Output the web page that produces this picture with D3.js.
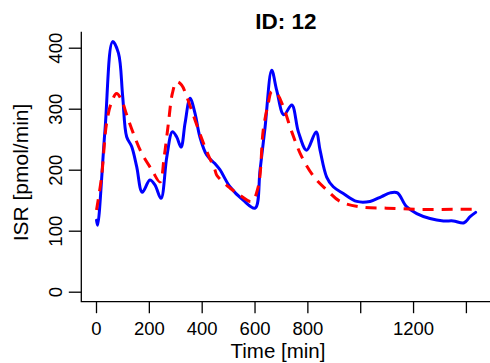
<!DOCTYPE html>
<html><head><meta charset="utf-8">
<script src="https://cdn.jsdelivr.net/npm/d3@7"></script>
<style>body{margin:0;background:#fff}svg{display:block}text{font-family:"Liberation Sans",Arial,sans-serif}</style>
</head><body>
<svg id="c" width="490" height="363"></svg>
<script>
const observedTime = [2,6,34,63,85,101,116,135,154,175,204,223,246,268,289,305,322,337,356,375,393,419,450,469,507,557,602,621,640,665,684,711,741,766,797,833,848,873,898,936,987,1037,1081,1113,1141,1174,1214,1264,1315,1352,1393,1416,1437];
const observedISR  = [117,109,265,410,391,320,254,238,205,163,183,175,153,221,262,254,237,276,317,292,254,224,210,200,172,150,137,200,270,363,330,290,306,262,232,262,232,188,172,161,148,148,156,162,162,140,128,120,116,116,113,123,130];
const modelTime = [2,21,40,59,78,97,116,141,173,211,242,258,274,289,305,324,343,368,400,425,450,457,507,545,589,614,633,652,665,684,709,741,779,829,873,924,999,1100,1226,1352,1428];
const modelISR  = [134,188,276,311,325,314,290,260,227,200,180,221,276,325,344,339,320,290,251,224,200,191,170,158,148,172,265,309,328,325,303,262,221,186,167,148,139,137,135,135,135];
const xTicks = [0,200,400,600,800,1000,1200,1400];
const xTickLabels = ["0","200","400","600","800","","1200",""];
const yTicks = [0,100,200,300,400];
const yTickLabels = ["0","100","200","300","400"];

const svg = d3.select("#c");
const x = d3.scaleLinear().domain([0,1400]).range([96,465.9]);
const y = d3.scaleLinear().domain([0,400]).range([291.7,47.7]);
const plotLeft = 81.3, plotBottom = 301.7, plotTop = 31.7;

// L-shaped box
svg.append("path").attr("d",`M${plotLeft},${plotTop}V${plotBottom}H490`).attr("fill","none").attr("stroke","#000").attr("stroke-width",1.3);

const xa = svg.append("g").attr("transform",`translate(0,${plotBottom})`)
  .call(d3.axisBottom(x).tickValues(xTicks).tickSize(11.5).tickPadding(5)
    .tickFormat((d,i)=>xTickLabels[i]));
xa.select(".domain").remove();
xa.selectAll("line").attr("stroke","#000").attr("stroke-width",1.3);
xa.selectAll("text").attr("font-size","18.5px").attr("fill","#000").attr("dy",null).attr("y",33);

const ya = svg.append("g").attr("transform",`translate(${plotLeft},0)`)
  .call(d3.axisLeft(y).tickValues(yTicks).tickSize(12.5).tickFormat((d,i)=>yTickLabels[i]));
ya.select(".domain").remove();
ya.selectAll("line").attr("stroke","#000").attr("stroke-width",1.3);
ya.selectAll("text").attr("font-size","18.5px").attr("fill","#000")
  .attr("x",null).attr("dy",null).attr("text-anchor","middle")
  .attr("transform","translate(-19.5,0) rotate(-90)");

const line = d3.line().x(d=>x(d[0])).y(d=>y(d[1])).curve(d3.curveCatmullRom.alpha(0.5));
const obs = observedTime.map((t,i)=>[t,observedISR[i]]);
const mod = modelTime.map((t,i)=>[t,modelISR[i]]);

svg.append("path").datum(obs).attr("d",line).attr("fill","none").attr("stroke","#0000ff").attr("stroke-width",3).attr("stroke-linejoin","round").attr("stroke-linecap","round");
svg.append("path").datum(mod).attr("d",line).attr("fill","none").attr("stroke","#ff0000").attr("stroke-width",3).attr("stroke-dasharray","11,8");

svg.append("text").attr("x",278).attr("y",358).attr("text-anchor","middle").attr("font-size","20.5px").text("Time [min]");
svg.append("text").attr("x",286).attr("y",29).attr("text-anchor","middle").attr("font-size","22.5px").attr("font-weight","bold").text("ID: 12");
svg.append("text").attr("transform","translate(28.3,172.5) rotate(-90)").attr("text-anchor","middle").attr("font-size","21px").text("ISR [pmol/min]");
</script>
</body></html>
